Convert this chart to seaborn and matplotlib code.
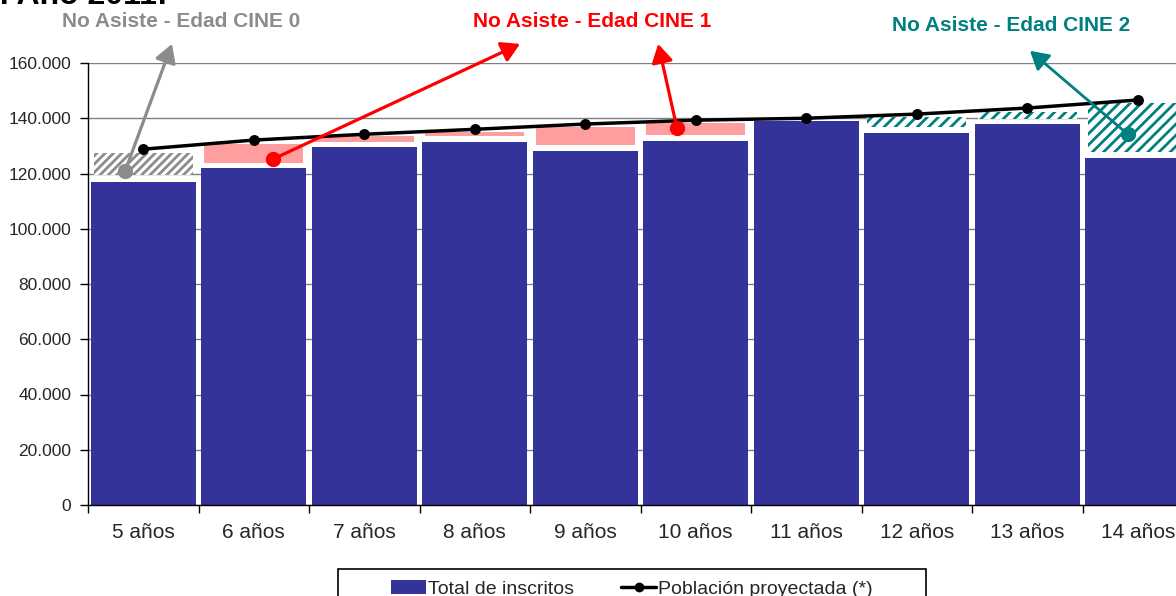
import matplotlib
matplotlib.use("Agg")
import matplotlib.pyplot as plt
import matplotlib.ticker as mticker
from matplotlib.patches import Rectangle, Patch
from matplotlib.lines import Line2D
import numpy as np
import seaborn as sns

# ---- data ----
edades = ['5 años', '6 años', '7 años', '8 años', '9 años',
          '10 años', '11 años', '12 años', '13 años', '14 años']
inscritos = [117000, 122000, 129500, 131300, 128100,
             131700, 139000, 134600, 137900, 125500]
poblacion = [128800, 132100, 134200, 136000, 137900,
             139300, 140000, 141500, 143700, 146600]

# "No asiste" boxes: from / to
cine0_edades = ['5 años']
cine0_desde = [119400]
cine0_hasta = [127300]

cine1_edades = ['6 años', '7 años', '8 años', '9 años', '10 años']
cine1_desde = [123700, 131300, 133500, 130200, 133900]
cine1_hasta = [130600, 133500, 135000, 136800, 138200]

cine2_edades = ['12 años', '13 años', '14 años']
cine2_desde = [136800, 139700, 127700]
cine2_hasta = [140400, 142200, 145500]

AZUL = '#333399'
ROSA = '#FF9E9E'
GRIS = '#8C8C8C'
ROJO = '#FF0000'
TEAL = '#008080'

sns.set_theme(style='white')
plt.rcParams['font.family'] = ['Liberation Sans', 'DejaVu Sans']
plt.rcParams['hatch.linewidth'] = 2.0

fig = plt.figure(figsize=(11.76, 5.96), dpi=100)
ax = fig.add_axes([88 / 1176, 1 - 505 / 596, 1105 / 1176, 442 / 596])

sns.barplot(x=edades, y=inscritos, order=edades, color=AZUL, saturation=1,
            width=0.95, linewidth=0, ax=ax, zorder=2)

def cajas(etiquetas, desde, hasta, **kw):
    pos = [edades.index(e) for e in etiquetas]
    alto = np.array(hasta) - np.array(desde)
    ax.bar(pos, alto, bottom=desde, width=0.9, linewidth=0, zorder=2, **kw)

cajas(cine0_edades, cine0_desde, cine0_hasta, facecolor='white', edgecolor=GRIS, hatch='////')
cajas(cine1_edades, cine1_desde, cine1_hasta, facecolor=ROSA, edgecolor=ROSA)
cajas(cine2_edades, cine2_desde, cine2_hasta, facecolor='white', edgecolor=TEAL, hatch='///')

sns.pointplot(x=edades, y=poblacion, order=edades, color='black', markers='o',
              markersize=6, linewidth=2.5, ax=ax)

ax.set_xlim(-0.5, 9.5)
ax.set_ylim(0, 160000)
ax.set_xlabel('')
ax.set_ylabel('')

ax.set_xticks(range(len(edades)))
ax.set_xticklabels(edades, fontsize=15)
ax.set_xticks(np.arange(-0.5, 10, 1), minor=True)
ax.tick_params(axis='x', which='major', length=0, pad=13)
ax.tick_params(axis='x', which='minor', length=6, width=1, color='black', direction='out')
ax.set_yticks(np.arange(0, 160001, 20000))
ax.yaxis.set_major_formatter(mticker.FuncFormatter(lambda v, _: f'{int(v):,}'.replace(',', '.')))
ax.tick_params(axis='y', length=6, width=1, color='black', direction='out', pad=6, labelsize=12.5)
ax.tick_params(left=True, bottom=True, which='both')

ax.yaxis.grid(True, color='#808080', linewidth=1)
ax.set_axisbelow(True)
for s in ['top', 'right']:
    ax.spines[s].set_visible(False)
for s in ['left', 'bottom']:
    ax.spines[s].set_color('black')
    ax.spines[s].set_linewidth(1)
    ax.spines[s].set_zorder(5)

# annotations
def flecha(cola, punta, color, lw):
    ax.annotate('', xy=punta, xytext=cola, annotation_clip=False,
                arrowprops=dict(arrowstyle='-|>,head_length=0.55,head_width=0.32',
                                mutation_scale=20, color=color, lw=lw,
                                shrinkA=0, shrinkB=0), zorder=6)
    ax.plot(*cola, 'o', color=color, markersize=10, clip_on=False, zorder=7)

flecha((-0.165, 120800), (0.26, 166900), GRIS, 2.3)
flecha((1.174, 125200), (3.41, 166900), ROJO, 2.3)
flecha((4.83, 136400), (4.66, 166900), ROJO, 2.3)
flecha((8.91, 134200), (8.025, 164400), TEAL, 2.0)

ax.text(0.34, 175200, 'No Asiste - Edad CINE 0', color=GRIS, fontsize=15,
        fontweight='bold', ha='center', va='center', clip_on=False)
ax.text(4.06, 175200, 'No Asiste - Edad CINE 1', color=ROJO, fontsize=15,
        fontweight='bold', ha='center', va='center', clip_on=False)
ax.text(7.85, 173400, 'No Asiste - Edad CINE 2', color=TEAL, fontsize=15,
        fontweight='bold', ha='center', va='center', clip_on=False)

# cut-off title fragment at the very top
fig.text(168 / 1176, 1 - 4 / 596, 'l. Año 2011:', fontsize=23, fontweight='bold',
         ha='right', va='baseline', color='black')

# legend with its box
fig.patches.append(Rectangle((338 / 1176, -0.05), 588 / 1176, 0.05 + 1 - 569 / 596,
                             transform=fig.transFigure, facecolor='white',
                             edgecolor='black', linewidth=1.2))
handles = [Patch(facecolor=AZUL, edgecolor='none'),
           Line2D([], [], color='black', marker='o', lw=2.5, markersize=6)]
fig.legend(handles, ['Total de inscritos', 'Población proyectada (*)'],
           loc='center', bbox_to_anchor=(632 / 1176, 1 - 589 / 596), ncol=2,
           frameon=False, fontsize=14, handlelength=1.8, handletextpad=0.1,
           columnspacing=2.4, borderpad=0)

fig.savefig('out.png', dpi=100)
